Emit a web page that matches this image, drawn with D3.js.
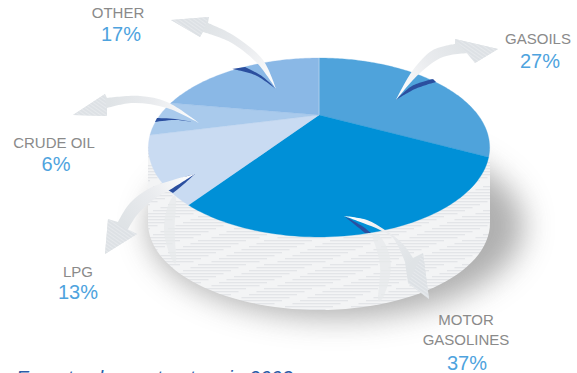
<!DOCTYPE html>
<html><head><meta charset="utf-8">
<script src="https://cdnjs.cloudflare.com/ajax/libs/d3/7.8.5/d3.min.js"></script>
<style>html,body{margin:0;padding:0;background:#fff;overflow:hidden}svg{display:block}text{font-family:"Liberation Sans",Arial,sans-serif}</style>
</head><body><div id="c"></div>
<script>
// Data
const categories = ["GASOILS","MOTOR GASOLINES","LPG","CRUDE OIL","OTHER"];
const printedPercent = [27,37,13,6,17];
// Angular share of each slice as actually drawn in the picture (differs from the printed labels)
const drawnShare = [32.5,27.3,11.4,6.4,22.4];
const sliceColors = ["#4fa3db","#0090d7","#c9dbf2","#a9caec","#8ab8e6"];

const W=577,H=373;
const svg=d3.select("#c").append("svg").attr("width",W).attr("height",H);
const defs=svg.append("defs");

// Geometry of the tilted disc
const cx=319, cy=147, apexDrop=-32, Rx=159, Ry=89.3, persp=-0.363;
const project=(a,r=1)=>{const u=r*Math.sin(a),v=-r*Math.cos(a),w=1+persp*v;
  return [cx+Rx*u/w, cy+(Ry*v+apexDrop)/w];};

// shadow
const blur=defs.append("filter").attr("id","blur").attr("x","-30%").attr("y","-40%").attr("width","160%").attr("height","180%");
blur.append("feGaussianBlur").attr("stdDeviation",15);
svg.append("ellipse").attr("cx",336).attr("cy",226).attr("rx",188).attr("ry",92)
  .attr("fill","#8a8a8a").attr("opacity",.68).attr("filter","url(#blur)");

// hatch for the side wall
const side=defs.append("pattern").attr("id","side").attr("patternUnits","userSpaceOnUse")
  .attr("width",66).attr("height",24);
side.append("rect").attr("width",66).attr("height",24).attr("fill","#f3f4f5");
d3.range(8).forEach(i=>{
  const y=i*3, off=(i*-7.5+660)%66;
  [0,66,-66].forEach(d=>side.append("rect").attr("x",off+d).attr("y",y).attr("width",48).attr("height",1.3).attr("fill","#e3e5e8"));
});
const hatch=defs.append("pattern").attr("id","hatch").attr("patternUnits","userSpaceOnUse")
  .attr("width",3).attr("height",3).attr("patternTransform","rotate(35)");
hatch.append("rect").attr("width",3).attr("height",3).attr("fill","#dde1e5");
hatch.append("rect").attr("width",3).attr("height",1).attr("fill","#e6e9ec");

// side wall
const botY=223, botRy=87, botRx=171;
const wall=d3.range(0,181,3).map(d=>{const t=d*Math.PI/180;return [cx+botRx*Math.cos(t),botY+botRy*Math.sin(t)];});
const lineGen=d3.line();
svg.append("path").attr("d",lineGen([[cx+botRx,cy],...wall,[cx-botRx,cy]])+"Z").attr("fill","url(#side)");

// faint curls on the wall
const curl=d3.line().curve(d3.curveBasisClosed);
[[[172,193],[160,228],[172,262],[178,268],[173,228],[178,196]],
 [[368,232],[384,262],[375,306],[384,300],[395,262],[380,232]]].forEach(c=>
  svg.append("path").attr("d",curl(c)).attr("fill","#e7e9eb").attr("opacity",.75));

// top face from the pie layout
const pie=d3.pie().sort(null).value(d=>d);
const arcs=pie(drawnShare);
const g=svg.append("g");
arcs.forEach((a,i)=>{
  const n=Math.ceil((a.endAngle-a.startAngle)/0.02);
  const rim=d3.range(n+1).map(k=>project(a.startAngle+(a.endAngle-a.startAngle)*k/n));
  g.append("path").attr("d",lineGen([project(0,0),...rim])+"Z").attr("fill",sliceColors[i])
   .attr("stroke",sliceColors[i]).attr("stroke-width",.3);
});
g.append("path").attr("d",lineGen([project(0,0),project(0)])).attr("stroke","#b4d2ee").attr("stroke-width",.8);

// Callout arrows (decorative shapes)
const arrowShapes=[
 {sliver:[[396,100],[412,86],[433,79],[436,82],[415,89]],
  shaft:[[396,100],[413,70],[433,50],[455,44]], head:[[455,39],[498,49],[475,63]],
  under:[[470,53],[443,57],[420,73]], g:[396,100,470,50]},
 {sliver:[[276,89],[255,75],[232,69],[245,67],[263,77]],
  shaft:[[276,89],[263,60],[233,35],[208,23]], head:[[209,17],[171,20],[200,37]],
  under:[[203,32],[230,42],[257,63]], g:[276,89,205,25]},
 {sliver:[[199,123],[175,120],[155,122],[157,118],[175,119]],
  shaft:[[199,123],[167,102],[140,96],[107,98]], head:[[105,94],[73,115],[107,116]],
  under:[[107,108],[133,103],[167,108]], g:[199,123,110,100]},
 {sliver:[[195,174],[180,179],[168,190],[173,193],[184,184]],
  shaft:[[195,174],[173,180],[150,188],[130,203],[118,222]], head:[[108,219],[105,254],[137,234]],
  under:[[127,231],[137,215],[153,200],[173,188]], g:[195,174,125,225]},
 {sliver:[[344,216],[362,226],[371,233],[365,233],[354,224]],
  shaft:[[344,216],[367,220],[385,230],[402,243],[413,258]], head:[[423,253],[429,299],[408,283]],
  under:[[405,262],[393,238],[380,230],[363,223]], g:[344,216,410,265]}
];
const smooth=d3.line().curve(d3.curveCatmullRom.alpha(.5));
arrowShapes.forEach((s,i)=>{
  const e1=smooth(s.sliver.slice(0,3)), e2=smooth(s.sliver.slice(3).concat([s.sliver[0]]));
  svg.append("path").attr("d",e1+"L"+e2.slice(1)+"Z").attr("fill","#2b4f9f");
  const id="fade"+i;
  const lg=defs.append("linearGradient").attr("id",id).attr("gradientUnits","userSpaceOnUse")
    .attr("x1",s.g[0]).attr("y1",s.g[1]).attr("x2",s.g[2]).attr("y2",s.g[3]);
  lg.append("stop").attr("offset",0).attr("stop-color","#fff");
  lg.append("stop").attr("offset",.55).attr("stop-color","#e9ebee");
  lg.append("stop").attr("offset",1).attr("stop-color","#dfe3e6");
  const top=smooth(s.shaft);
  const bot=smooth([...s.under,s.shaft[0]]);
  const d=top+"L"+s.head.join("L")+"L"+bot.slice(1)+"Z";
  svg.append("path").attr("d",d).attr("fill","url(#"+id+")");
  svg.append("path").attr("d",d3.line()(s.head)+"Z").attr("fill","url(#hatch)");
});

// Labels
const labelSpots=[
 {n:["GASOILS"],x:538,y:[44],px:540,py:68},
 {n:["MOTOR","GASOLINES"],x:466,y:[325,345],px:467,py:370},
 {n:["LPG"],x:78,y:[277],px:78,py:299},
 {n:["CRUDE OIL"],x:54,y:[148],px:56,py:171},
 {n:["OTHER"],x:118,y:[18],px:121,py:41}];
labelSpots.forEach((l,i)=>{
  l.n.forEach((t,j)=>svg.append("text").attr("x",l.x).attr("y",l.y[j]).attr("text-anchor","middle")
    .attr("font-size",15).attr("fill","#8a8a8a").text(t));
  svg.append("text").attr("x",l.px).attr("y",l.py).attr("text-anchor","middle")
    .attr("font-size",20).attr("fill","#4ea3de").text(printedPercent[i]+"%");
});
svg.append("text").attr("x",16).attr("y",385).attr("font-size",19.6).attr("font-style","italic")
  .attr("fill","#2b5ca8").text("Export volume structure in 2003");
</script></body></html>
